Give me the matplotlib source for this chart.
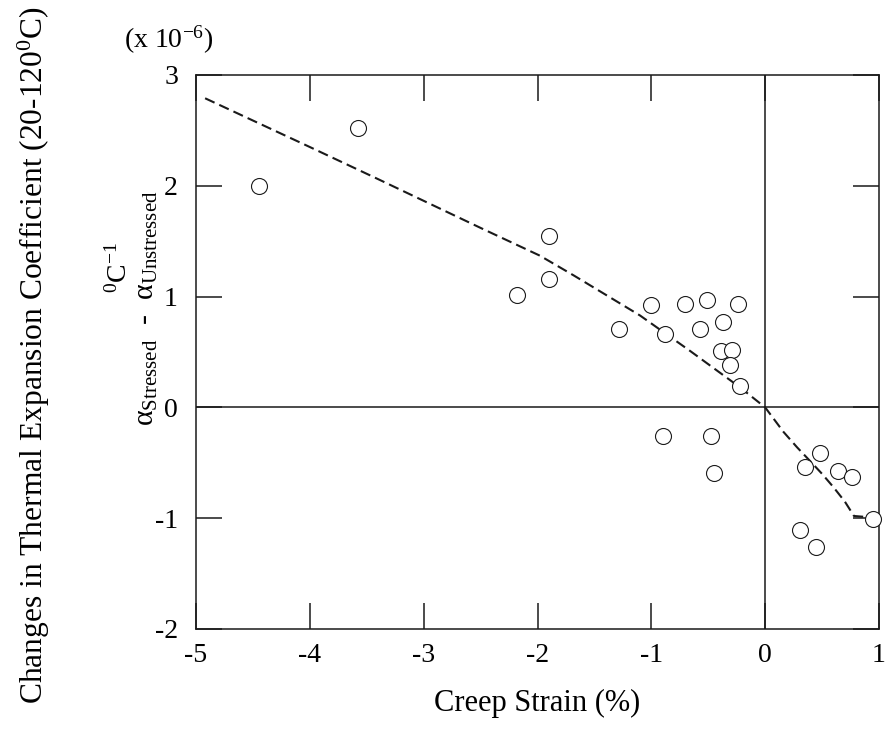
import matplotlib
matplotlib.use("Agg")
import matplotlib.pyplot as plt

plt.rcParams["font.family"] = ["Liberation Serif", "DejaVu Serif"]
plt.rcParams["mathtext.fontset"] = "custom"
plt.rcParams["mathtext.rm"] = "Liberation Serif"
plt.rcParams["mathtext.it"] = "Liberation Serif"
plt.rcParams["mathtext.default"] = "regular"
plt.rcParams["axes.unicode_minus"] = False

# measured points: creep strain (%) vs change in expansion coefficient (x 1e-6 /C)
strain = [-4.45, -3.58, -2.18, -1.90, -1.90, -1.28, -1.00, -0.88, -0.70, -0.57,
          -0.51, -0.37, -0.39, -0.29, -0.31, -0.24, -0.22, -0.90, -0.48, -0.45,
          0.35, 0.48, 0.64, 0.76, 0.31, 0.45, 0.95]
d_alpha = [2.00, 2.52, 1.01, 1.55, 1.16, 0.71, 0.92, 0.66, 0.93, 0.71,
           0.97, 0.77, 0.51, 0.52, 0.38, 0.93, 0.19, -0.26, -0.26, -0.59,
           -0.54, -0.41, -0.57, -0.63, -1.11, -1.26, -1.01]

# trend line read along its length
trend_x = [-4.92, -4.0, -3.4, -2.5, -1.98, -1.68, -1.39, -1.10, -0.88, -0.66,
           -0.42, -0.22, 0.0, 0.08, 0.16, 0.28, 0.40, 0.50, 0.60, 0.70, 0.78, 0.90]
trend_y = [2.79, 2.35, 2.06, 1.62, 1.37, 1.19, 1.01, 0.83, 0.67, 0.51,
           0.33, 0.18, 0.0, -0.11, -0.22, -0.36, -0.49, -0.60, -0.72, -0.85, -0.98, -0.99]

fig = plt.figure(figsize=(8.88, 7.30), dpi=100)
ax = fig.add_axes([196 / 888, 1 - 629 / 730, 683 / 888, 554 / 730])

ax.axhline(0, color="#1a1a1a", lw=1.1, zorder=1)
ax.axvline(0, color="#1a1a1a", lw=1.1, zorder=1)
ax.plot(trend_x, trend_y, color="#1a1a1a", lw=1.5, dashes=[5, 2.5], zorder=2)
ax.plot(strain, d_alpha, "o", ms=11.5, mfc="white", mec="#1a1a1a", mew=0.8,
        zorder=3, clip_on=False)

ax.set_xlim(-5, 1)
ax.set_ylim(-2, 3)
ax.set_xticks(range(-5, 2))
ax.set_yticks(range(-2, 4))
ax.tick_params(direction="in", length=19, width=1.1, top=True, right=True,
               labelsize=20, color="#1a1a1a")
ax.tick_params(axis="x", pad=10)
ax.tick_params(axis="y", pad=13)
for s in ax.spines.values():
    s.set_linewidth(1.1)
    s.set_color("#1a1a1a")

fig.text(537 / 888, 1 - 703 / 730, "Creep Strain (%)", fontsize=22,
         ha="center", va="center")
fig.text(169 / 888, 1 - 40 / 730, r"(x 10$^{-6}$)", fontsize=20,
         ha="center", va="center")
fig.text(34 / 888, 1 - 355 / 730,
         r"Changes in Thermal Expansion Coefficient (20-120$^{0}$C)",
         fontsize=22.7, rotation=90, ha="center", va="center")
fig.text(119 / 888, 1 - 268 / 730, r"$^{0}$C$^{-1}$", fontsize=20,
         rotation=90, ha="center", va="center")
fig.text(147 / 888, 1 - 308 / 730,
         r"α$_{Stressed}$  -  α$_{Unstressed}$", fontsize=21.5,
         rotation=90, ha="center", va="center")

fig.savefig("out.png", dpi=100)
